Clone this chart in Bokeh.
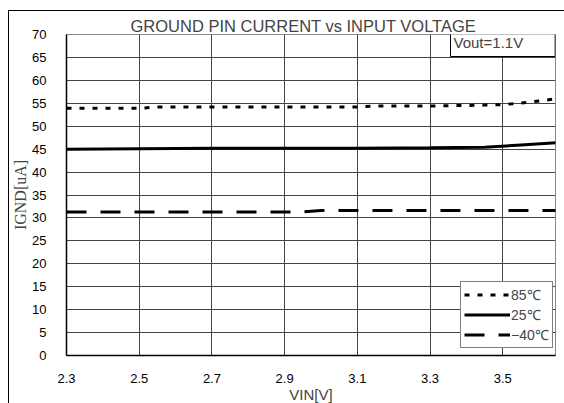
from bokeh.plotting import figure
from bokeh.layouts import column
from bokeh.models import FixedTicker, Legend, LegendItem, Label
from bokeh.embed import file_html
from bokeh.resources import INLINE

# Data
vin_85 = [2.3, 2.5, 2.55, 2.7, 2.9, 3.1, 3.15, 3.3, 3.45, 3.5, 3.58, 3.65]
ignd_85 = [53.9, 53.9, 54.2, 54.2, 54.2, 54.2, 54.4, 54.4, 54.6, 54.7, 55.3, 56.0]

vin_25 = [2.3, 2.5, 2.7, 2.9, 3.1, 3.3, 3.45, 3.55, 3.65]
ignd_25 = [45.0, 45.1, 45.2, 45.2, 45.2, 45.3, 45.4, 45.9, 46.4]

vin_m40 = [2.3, 2.5, 2.7, 2.9, 2.95, 3.0, 3.1, 3.3, 3.5, 3.65]
ignd_m40 = [31.3, 31.3, 31.3, 31.3, 31.3, 31.6, 31.6, 31.6, 31.6, 31.6]

x_ticks = [2.3, 2.5, 2.7, 2.9, 3.1, 3.3, 3.5]
y_ticks = list(range(0, 75, 5))
series_labels = ["85℃", "25℃", "−40℃"]
title_text = "GROUND PIN CURRENT vs INPUT VOLTAGE"
note_text = "Vout=1.1V"

p = figure(frame_width=489, frame_height=321, output_backend="svg", toolbar_location=None,
           x_range=(2.3, 3.645), y_range=(0, 70),
           min_border_left=56, min_border_right=10, min_border_top=23, min_border_bottom=40)

p.title.text = title_text
p.title.align = "left"
p.title.offset = 64
p.title.text_font = "Liberation Sans"
p.title.text_font_size = "16.5px"
p.title.text_font_style = "normal"
p.title.standoff = 0

p.outline_line_color = "#888888"
p.background_fill_color = "white"
p.border_fill_color = "white"

for ax in (p.xaxis[0], p.yaxis[0]):
    ax.major_tick_line_color = None
    ax.minor_tick_line_color = None
    ax.axis_line_color = "black"
    ax.axis_line_width = 1.5
    ax.major_label_text_font = "Liberation Sans"
    ax.major_label_text_font_size = "13px"
    ax.major_label_text_color = "black"

p.xaxis.ticker = FixedTicker(ticks=x_ticks)
p.yaxis.ticker = FixedTicker(ticks=y_ticks)
p.xaxis.major_label_standoff = 12
p.yaxis.major_label_standoff = 14
p.xaxis.axis_label = "VIN[V]"
p.xaxis.axis_label_text_font = "Liberation Sans"
p.xaxis.axis_label_text_font_size = "15px"
p.xaxis.axis_label_text_font_style = "normal"
p.xaxis.axis_label_standoff = 0
p.yaxis.axis_label = "IGND[uA]"
p.yaxis.axis_label_text_font = "Liberation Serif"
p.yaxis.axis_label_text_font_size = "16px"
p.yaxis.axis_label_text_font_style = "normal"
p.yaxis.axis_label_standoff = 0

p.xgrid.grid_line_color = "#444444"
p.ygrid.grid_line_color = "#444444"

r85 = p.line(vin_85, ignd_85, line_color="black", line_width=3, line_dash="5 8")
r25 = p.line(vin_25, ignd_25, line_color="black", line_width=3)
rm40 = p.line(vin_m40, ignd_m40, line_color="black", line_width=3, line_dash="20 14")

legend = Legend(items=[LegendItem(label=series_labels[0], renderers=[r85]),
                       LegendItem(label=series_labels[1], renderers=[r25]),
                       LegendItem(label=series_labels[2], renderers=[rm40])],
                location=(394, 7))
legend.border_line_color = "black"
legend.border_line_width = 1
legend.background_fill_color = "white"
legend.background_fill_alpha = 1
legend.label_text_font = "Liberation Sans"
legend.label_text_font_size = "14px"
legend.glyph_width = 46
legend.glyph_height = 17
legend.label_height = 17
legend.label_standoff = 1
legend.padding = 3
legend.spacing = 1
legend.margin = 0
p.add_layout(legend, "center")

note = Label(x=384, y=299, x_units="screen", y_units="screen", text=note_text,
             text_font="Liberation Sans", text_font_size="15px",
             text_align="left", text_baseline="bottom",
             border_line_color="black", border_line_width=1,
             background_fill_color="white", background_fill_alpha=1,
             padding=dict(left=3, right=32, top=5, bottom=6))
p.add_layout(note)

page = column(p, margin=(10, 0, 0, 8),
              styles={"border-left": "1px solid #000", "border-top": "1px solid #000"})

open("out.html", "w").write(file_html(page, INLINE))
